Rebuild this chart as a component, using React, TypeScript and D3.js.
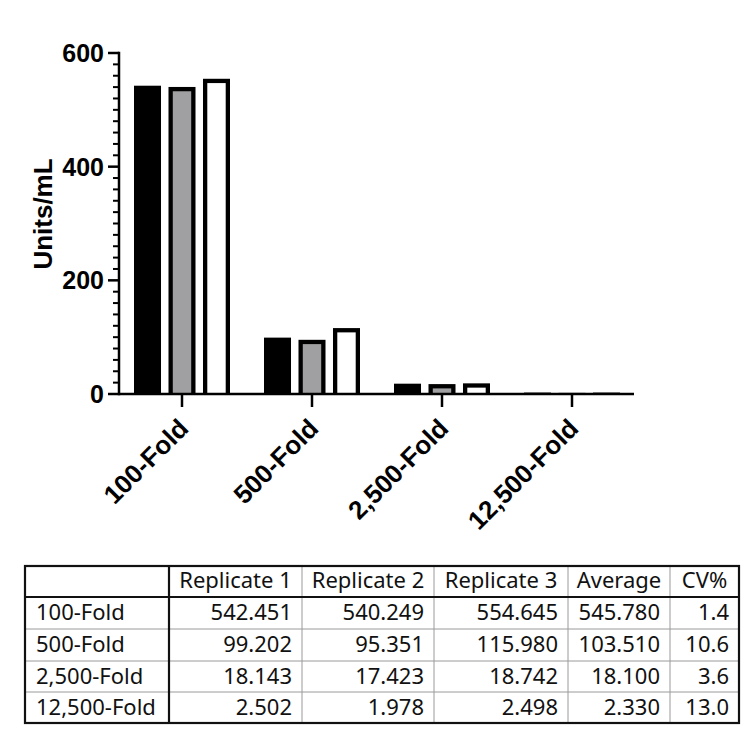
import React, { useRef, useEffect } from "react";
import * as d3 from "d3";

// Daten
const folds = ["100-Fold", "500-Fold", "2,500-Fold", "12,500-Fold"];
const seriesNames = ["Replicate 1", "Replicate 2", "Replicate 3"];
const replicate1 = [542.451, 99.202, 18.143, 2.502];
const replicate2 = [540.249, 95.351, 17.423, 1.978];
const replicate3 = [554.645, 115.98, 18.742, 2.498];
const averages = [545.78, 103.51, 18.1, 2.33];
const cvPercent = [1.4, 10.6, 3.6, 13.0];
const yTicks = [0, 200, 400, 600];
const tableHeaders = ["", "Replicate 1", "Replicate 2", "Replicate 3", "Average", "CV%"];

const seriesFill = ["#000000", "#a0a0a2", "#ffffff"];

export default function App() {
    const ref = useRef<SVGSVGElement | null>(null);

    useEffect(() => {
        if (!ref.current) return;
        const svg = d3.select(ref.current);
        svg.selectAll("*").remove();

        const W = 750, H = 734;
        svg.attr("width", W).attr("height", H);
        svg.append("rect").attr("width", W).attr("height", H).attr("fill", "white");

        const x = d3.scaleBand<string>().domain(folds).range([117, 637]);
        const x1 = d3.scaleBand<string>().domain(seriesNames).range([-48, 48]).paddingInner(0.217);
        const y = d3.scaleLinear().domain([0, 600]).range([394, 53]);

        const values = [replicate1, replicate2, replicate3];
        const bars = folds.flatMap((f, i) =>
            seriesNames.map((s, j) => ({ fold: f, series: s, idx: j, value: values[j][i] }))
        );

        const g = svg.append("g");
        const sw = 4.3; // Randbreite der Balken
        const axisFont = "'Liberation Sans', Arial, sans-serif";

        // Balken: schwarzer Rahmen, innen Füllung (unterer Rand liegt unter der Achse)
        const barG = g.selectAll("g.bar").data(bars).enter().append("g").attr("class", "bar");
        barG.append("rect")
            .attr("x", (d) => x(d.fold)! + x.bandwidth() / 2 + x1(d.series)!)
            .attr("y", (d) => y(d.value))
            .attr("width", x1.bandwidth())
            .attr("height", (d) => y(0) - y(d.value))
            .attr("fill", "#000");
        barG.filter((d) => y(0) - y(d.value) > sw + 1.5 && d.idx > 0)
            .append("rect")
            .attr("x", (d) => x(d.fold)! + x.bandwidth() / 2 + x1(d.series)! + sw)
            .attr("y", (d) => y(d.value) + sw)
            .attr("width", x1.bandwidth() - 2 * sw)
            .attr("height", (d) => y(0) - y(d.value) - sw)
            .attr("fill", (d) => seriesFill[d.idx]);

        // Y-Achse
        const yAxis = g.append("g").attr("transform", `translate(119,0)`);
        yAxis.append("line")
            .attr("x1", 0).attr("x2", 0)
            .attr("y1", y(600) - 1.2).attr("y2", y(0) + 1.2)
            .attr("stroke", "#000").attr("stroke-width", 2.5);
        const minor = d3.range(0, 601, 20).filter((v) => !yTicks.includes(v));
        yAxis.selectAll("line.minor").data(minor).enter().append("line")
            .attr("class", "minor")
            .attr("x1", -6).attr("x2", 0)
            .attr("y1", (d) => y(d)).attr("y2", (d) => y(d))
            .attr("stroke", "#000").attr("stroke-width", 2);
        yAxis.selectAll("line.major").data(yTicks).enter().append("line")
            .attr("class", "major")
            .attr("x1", -11).attr("x2", 0)
            .attr("y1", (d) => y(d)).attr("y2", (d) => y(d))
            .attr("stroke", "#000").attr("stroke-width", 2.5);
        yAxis.selectAll("text.tick").data(yTicks).enter().append("text")
            .attr("class", "tick")
            .attr("x", -15)
            .attr("y", (d) => y(d) + 9)
            .attr("text-anchor", "end")
            .style("font-family", axisFont)
            .style("font-weight", "bold")
            .style("font-size", "25px")
            .text((d) => d);

        g.append("text")
            .attr("transform", `translate(52, 214) rotate(-90)`)
            .attr("text-anchor", "middle")
            .style("font-family", axisFont)
            .style("font-weight", "bold")
            .style("font-size", "26px")
            .text("Units/mL");

        // X-Achse
        g.append("line")
            .attr("x1", 119).attr("x2", 634)
            .attr("y1", y(0)).attr("y2", y(0))
            .attr("stroke", "#000").attr("stroke-width", 2.5);
        g.selectAll("line.xtick").data(folds).enter().append("line")
            .attr("class", "xtick")
            .attr("x1", (d) => x(d)! + x.bandwidth() / 2)
            .attr("x2", (d) => x(d)! + x.bandwidth() / 2)
            .attr("y1", y(0)).attr("y2", y(0) + 13)
            .attr("stroke", "#000").attr("stroke-width", 2.5);
        g.selectAll("text.xlabel").data(folds).enter().append("text")
            .attr("class", "xlabel")
            .attr("transform", (d) => `translate(${x(d)! + x.bandwidth() / 2 + 8}, 430) rotate(-45)`)
            .attr("text-anchor", "end")
            .style("font-family", axisFont)
            .style("font-weight", "bold")
            .style("font-size", "26px")
            .text((d) => d);

        // Tabelle
        const colEdges = [25, 169, 302, 434, 568, 670, 739];
        const rowEdges = [566, 597, 629, 661, 692, 723];
        const rows = folds.map((f, i) => [
            f,
            replicate1[i].toFixed(3),
            replicate2[i].toFixed(3),
            replicate3[i].toFixed(3),
            averages[i].toFixed(3),
            cvPercent[i].toFixed(1),
        ]);

        const t = svg.append("g");
        // dünne Linien innen
        t.selectAll("line.vthin").data(colEdges.slice(2, -1)).enter().append("line")
            .attr("x1", (d) => d).attr("x2", (d) => d)
            .attr("y1", rowEdges[0]).attr("y2", rowEdges[rowEdges.length - 1])
            .attr("stroke", "#9a9a9a").attr("stroke-width", 1);
        t.selectAll("line.hthin").data(rowEdges.slice(2, -1)).enter().append("line")
            .attr("x1", colEdges[0]).attr("x2", colEdges[colEdges.length - 1])
            .attr("y1", (d) => d).attr("y2", (d) => d)
            .attr("stroke", "#9a9a9a").attr("stroke-width", 1);
        // dicke Linien
        t.append("line")
            .attr("x1", colEdges[1]).attr("x2", colEdges[1])
            .attr("y1", rowEdges[0]).attr("y2", rowEdges[rowEdges.length - 1])
            .attr("stroke", "#111").attr("stroke-width", 2.2);
        t.append("line")
            .attr("x1", colEdges[0]).attr("x2", colEdges[colEdges.length - 1])
            .attr("y1", rowEdges[1]).attr("y2", rowEdges[1])
            .attr("stroke", "#111").attr("stroke-width", 2.2);
        t.append("rect")
            .attr("x", colEdges[0]).attr("y", rowEdges[0])
            .attr("width", colEdges[colEdges.length - 1] - colEdges[0])
            .attr("height", rowEdges[rowEdges.length - 1] - rowEdges[0])
            .attr("fill", "none")
            .attr("stroke", "#111").attr("stroke-width", 2.2);

        const tableFont = "'Noto Sans', 'Open Sans', sans-serif";
        t.selectAll("text.head").data(tableHeaders).enter().append("text")
            .attr("class", "head")
            .attr("x", (_, i) => (colEdges[i] + colEdges[i + 1]) / 2)
            .attr("y", rowEdges[0] + 22)
            .attr("text-anchor", "middle")
            .style("font-family", tableFont)
            .style("font-size", "22px")
            .attr("fill", "#111")
            .text((d) => d);

        rows.forEach((r, ri) => {
            t.selectAll(`text.cell${ri}`).data(r).enter().append("text")
                .attr("class", `cell${ri}`)
                .attr("x", (_, i) => (i === 0 ? colEdges[0] + 11 : colEdges[i + 1] - 10))
                .attr("y", rowEdges[ri + 1] + 23)
                .attr("text-anchor", (_, i) => (i === 0 ? "start" : "end"))
                .style("font-family", tableFont)
                .style("font-size", "22px")
                .attr("fill", "#111")
                .text((d) => d);
        });
    }, []);

    return (
        <div style={{ position: "absolute", left: 0, top: 0 }}>
            <svg ref={ref} style={{ display: "block" }} />
        </div>
    );
}
